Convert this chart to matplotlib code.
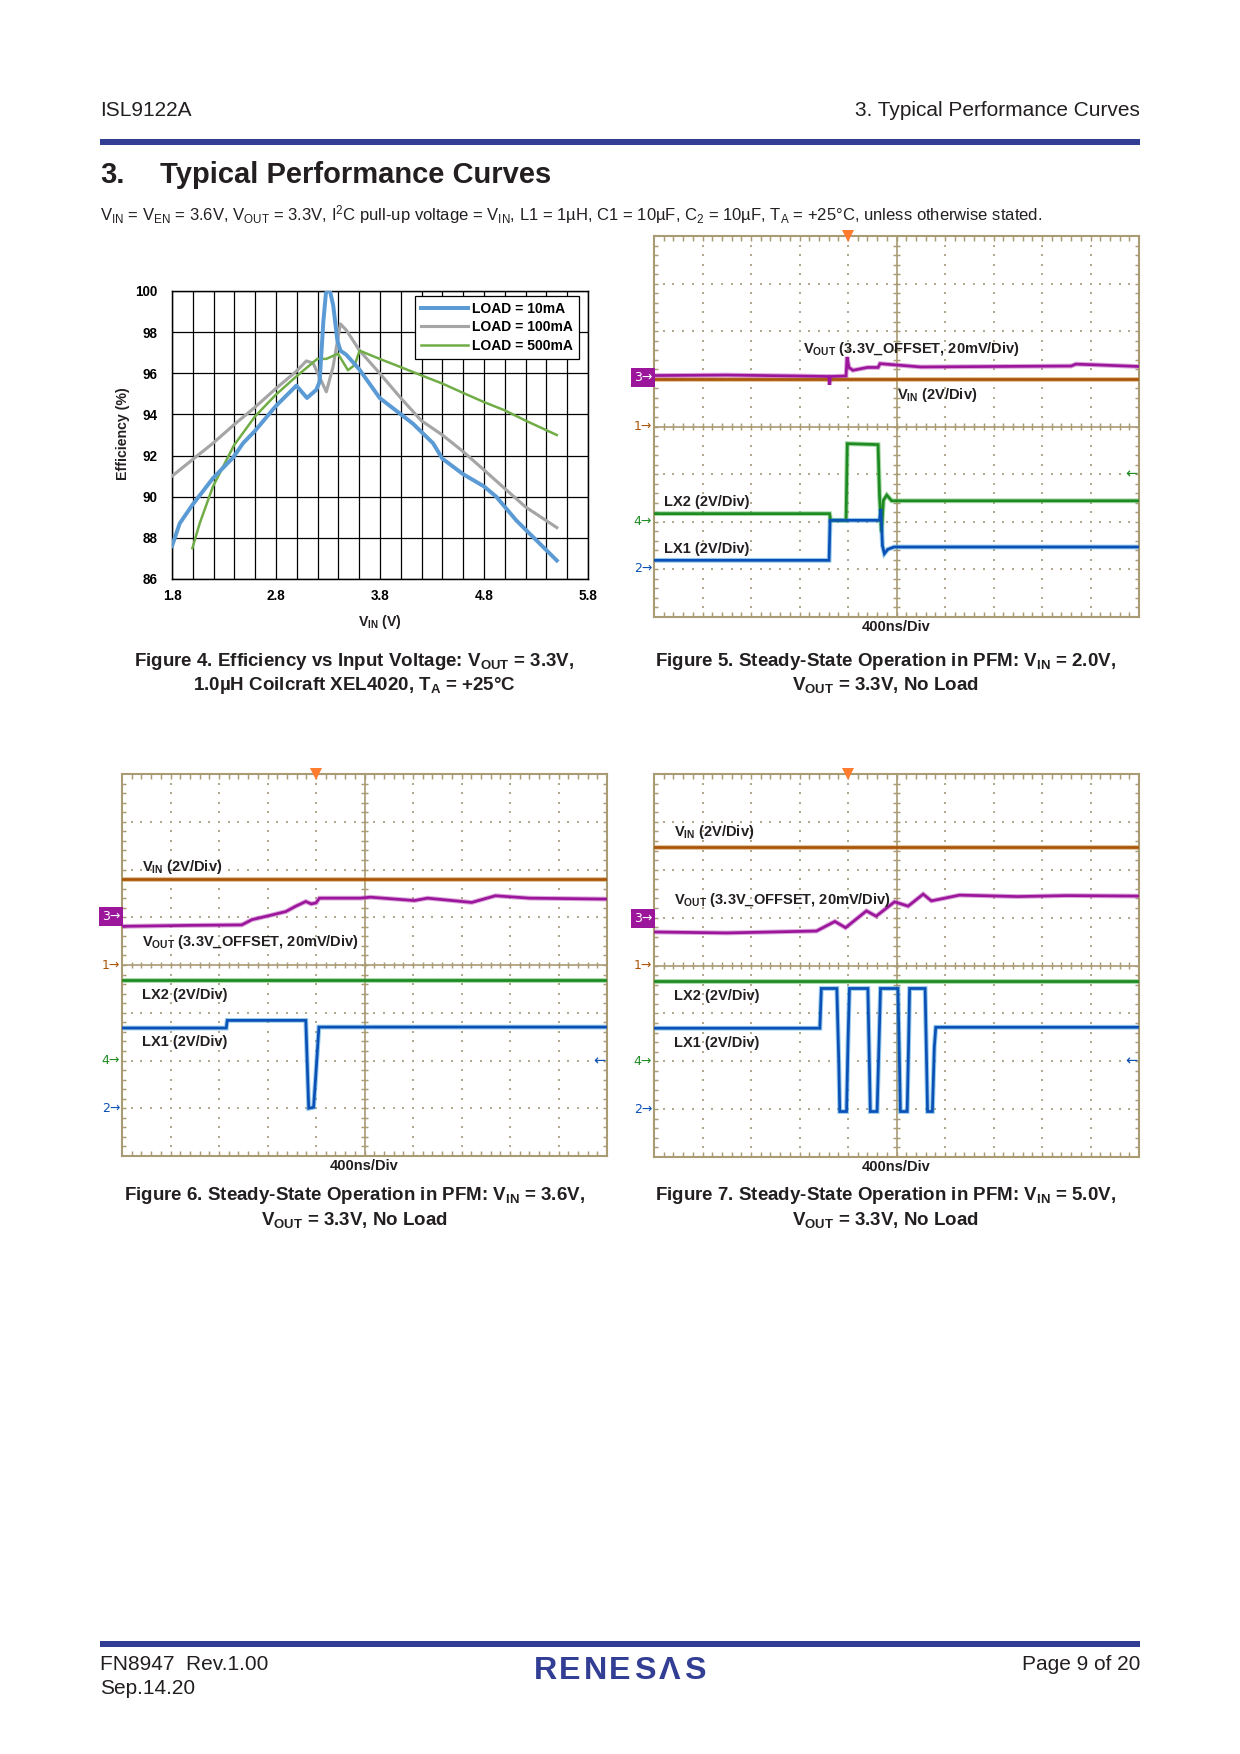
import numpy as np
import matplotlib
matplotlib.use("Agg")
import matplotlib.pyplot as plt
import matplotlib.transforms as mtransforms
from matplotlib.patches import Rectangle

plt.rcParams["font.family"] = ["Liberation Sans", "DejaVu Sans"]
plt.rcParams["mathtext.fontset"] = "custom"
plt.rcParams["mathtext.rm"] = "Liberation Sans"
plt.rcParams["mathtext.it"] = "Liberation Sans:italic"
plt.rcParams["mathtext.bf"] = "Liberation Sans:bold"

W, H, DPI = 1240, 1754, 150
TXT = "#231f20"
BAR = "#313e94"

# ── Figure 4: efficiency vs VIN ────────────────────────────────────────────
VIN_10MA = [1.80, 1.874, 1.996, 2.194, 2.387, 2.483, 2.598, 2.797, 2.996, 3.098,
            3.188, 3.22, 3.255, 3.28, 3.31, 3.35, 3.39, 3.42, 3.476, 3.60,
            3.797, 3.989, 4.117, 4.31, 4.40, 4.598, 4.80, 4.918, 5.11, 5.30, 5.50]
EFF_10MA = [87.6, 88.7, 89.6, 90.9, 91.9, 92.6, 93.2, 94.4, 95.4, 94.8,
            95.2, 95.6, 98.5, 99.9, 100.2, 99.3, 97.6, 97.1, 96.9, 96.2,
            94.8, 94.05, 93.55, 92.6, 91.85, 91.1, 90.5, 90.0, 88.85, 87.9, 86.9]

VIN_100MA = [1.80, 1.996, 2.194, 2.396, 2.598, 2.797, 2.996, 3.092, 3.156, 3.22,
             3.284, 3.348, 3.419, 3.476, 3.604, 3.797, 3.999, 4.197, 4.40, 4.598,
             4.80, 4.999, 5.20, 5.50]
EFF_100MA = [91.0, 91.8, 92.6, 93.5, 94.35, 95.25, 96.1, 96.6, 96.5, 95.8,
             95.1, 96.3, 98.4, 98.1, 97.1, 96.0, 94.8, 93.7, 93.0, 92.2,
             91.3, 90.4, 89.5, 88.5]

VIN_500MA = [1.996, 2.066, 2.194, 2.396, 2.598, 2.797, 2.996, 3.197, 3.284, 3.396,
             3.492, 3.556, 3.604, 3.797, 3.999, 4.197, 4.40, 4.598, 4.80, 4.999,
             5.20, 5.50]
EFF_500MA = [87.5, 88.7, 90.5, 92.5, 93.9, 94.95, 95.85, 96.7, 96.7, 96.95,
             96.15, 96.4, 97.1, 96.7, 96.3, 95.9, 95.5, 95.05, 94.6, 94.2,
             93.7, 93.0]

EFF_XTICKS = [1.8, 2.8, 3.8, 4.8, 5.8]
EFF_YTICKS = [86, 88, 90, 92, 94, 96, 98, 100]
LOAD_LABELS = ["LOAD = 10mA", "LOAD = 100mA", "LOAD = 500mA"]

# ── Scope traces (time in divisions, level in divisions, 10 x 8 grid) ─────
# Figure 5: VIN = 2.0V
F5_VIN_T = [0, 10]
F5_VIN_V = [4.99, 4.99]
F5_VOUT_T = [0, 1.5, 3.0, 3.60, 3.62, 3.64, 3.96, 3.98, 4.02, 4.10, 4.40, 4.62,
             4.66, 5.5, 7.0, 8.6, 8.7, 10]
F5_VOUT_V = [5.07, 5.08, 5.06, 5.05, 4.88, 5.05, 5.06, 5.46, 5.24, 5.18, 5.24, 5.24,
             5.32, 5.25, 5.26, 5.27, 5.31, 5.26]
F5_LX2_T = [0, 3.62, 3.64, 3.96, 3.985, 4.62, 4.65, 4.69, 4.73, 4.80, 4.90, 10]
F5_LX2_V = [2.17, 2.17, 2.03, 2.03, 3.64, 3.62, 2.55, 1.78, 2.45, 2.56, 2.44, 2.44]
F5_LX1_T = [0, 3.61, 3.63, 4.65, 4.68, 4.71, 4.75, 4.82, 4.95, 10]
F5_LX1_V = [1.19, 1.19, 2.03, 2.03, 2.27, 1.50, 1.33, 1.42, 1.47, 1.47]

# Figure 6: VIN = 3.6V
F6_VIN_T = [0, 10]
F6_VIN_V = [5.80, 5.80]
F6_VOUT_T = [0, 1.42, 2.47, 2.68, 3.10, 3.38, 3.58, 3.79, 3.90, 4.00, 4.07, 4.91,
             5.12, 6.03, 6.30, 7.21, 7.70, 8.40, 10]
F6_VOUT_V = [4.81, 4.83, 4.84, 4.95, 5.05, 5.12, 5.23, 5.33, 5.28, 5.30, 5.40, 5.40,
             5.42, 5.35, 5.40, 5.31, 5.45, 5.40, 5.38]
F6_LX2_T = [0, 10]
F6_LX2_V = [3.68, 3.68]
F6_LX1_T = [0, 2.15, 2.17, 3.79, 3.83, 3.85, 3.95, 3.99, 4.06, 10]
F6_LX1_V = [2.68, 2.68, 2.84, 2.84, 1.60, 1.00, 1.02, 1.60, 2.70, 2.70]

# Figure 7: VIN = 5.0V
F7_VIN_T = [0, 10]
F7_VIN_V = [6.48, 6.48]
F7_VOUT_T = [0, 1.5, 3.35, 3.73, 3.95, 4.38, 4.58, 4.96, 5.24, 5.55, 5.72, 6.3,
             7.5, 8.5, 10]
F7_VOUT_V = [4.70, 4.68, 4.72, 4.92, 4.79, 5.14, 5.03, 5.33, 5.24, 5.49, 5.35, 5.47,
             5.44, 5.46, 5.45]
F7_LX2_T = [0, 10]
F7_LX2_V = [3.68, 3.68]
F7_LX1_T = [0, 3.42, 3.45, 3.77, 3.81, 3.83, 3.97, 4.00, 4.03, 4.41, 4.44, 4.46,
            4.60, 4.64, 4.67, 5.03, 5.06, 5.08, 5.22, 5.25, 5.27, 5.59, 5.62, 5.64,
            5.74, 5.78, 5.81, 10]
F7_LX1_V = [2.69, 2.69, 3.52, 3.52, 2.00, 0.95, 0.95, 2.40, 3.52, 3.52, 2.00, 0.95,
            0.95, 2.40, 3.52, 3.52, 2.00, 0.95, 0.95, 2.40, 3.52, 3.52, 2.00, 0.95,
            0.95, 2.30, 2.71, 2.71]

# channel ground markers (div): ch3 VOUT, ch1 VIN, ch4 LX2, ch2 LX1
F5_MARKS = [5.03, 4.0, 2.01, 1.01]
F6_MARKS = [5.02, 4.0, 2.0, 1.0]
F7_MARKS = [4.98, 4.0, 2.0, 1.0]
TRIG_T = 4.0
F5_TRIG_LEVEL = 3.0
F6_TRIG_LEVEL = 2.0
F7_TRIG_LEVEL = 2.0

C_VIN = "#a9560a"
C_VOUT = "#9c169c"
C_LX2 = "#1d8a22"
C_LX1 = "#0b50b5"
HALO = {C_VIN: "#c98a3a", C_VOUT: "#c060c0", C_LX2: "#5cb85c", C_LX1: "#3fa0e0"}
C_GRID = "#a99b74"
C_DOT = "#b3a98f"


def px_axes(fig, x0, y0, x1, y1):
    return fig.add_axes([x0 / W, 1 - y1 / H, (x1 - x0) / W, (y1 - y0) / H])


def draw_scope(ax, traces, marks, trig_level, trig_color, labels):
    ax.set_xlim(0, 10)
    ax.set_ylim(0, 8)
    ax.set_xticks([])
    ax.set_yticks([])
    for s in ax.spines.values():
        s.set_color(C_GRID)
        s.set_linewidth(1.0)

    minor_x = np.arange(0.2, 10, 0.2)
    minor_y = np.arange(0.2, 8, 0.2)
    # dotted division grid
    for xv in [1, 2, 3, 4, 6, 7, 8, 9]:
        ax.scatter(np.full(len(minor_y), xv), minor_y, s=0.7, marker="s",
                   color=C_DOT, linewidths=0, zorder=1)
    for yv in [1, 2, 3, 5, 6, 7]:
        ax.scatter(minor_x, np.full(len(minor_x), yv), s=0.7, marker="s",
                   color=C_DOT, linewidths=0, zorder=1)
    # centre cross with minor ticks
    ax.axvline(5, color=C_GRID, lw=0.8, zorder=1)
    ax.axhline(4, color=C_GRID, lw=0.8, zorder=1)
    ax.vlines(minor_x, 4 - 0.07, 4 + 0.07, color=C_GRID, lw=0.7, zorder=1)
    ax.hlines(minor_y, 5 - 0.08, 5 + 0.08, color=C_GRID, lw=0.7, zorder=1)
    # edge ticks
    ax.vlines(minor_x, 8 - 0.1, 8, color=C_GRID, lw=0.7, zorder=1)
    ax.vlines(minor_x, 0, 0.1, color=C_GRID, lw=0.7, zorder=1)
    ax.hlines(minor_y, 0, 0.08, color=C_GRID, lw=0.7, zorder=1)
    ax.hlines(minor_y, 10 - 0.08, 10, color=C_GRID, lw=0.7, zorder=1)

    for t, v, c in traces:
        ax.plot(t, v, color=HALO[c], lw=2.3, alpha=0.55, solid_joinstyle="miter", zorder=2)
        ax.plot(t, v, color=c, lw=1.3, solid_joinstyle="miter", zorder=3)

    # trigger position marker
    ax.plot([TRIG_T], [8], marker="v", color="#ff7b2e", markersize=5.5,
            clip_on=False, zorder=5, markeredgewidth=0)
    ax.text(9.97, trig_level, "\u2190", color=trig_color, ha="right", va="center",
            fontsize=7, family=["DejaVu Sans"], zorder=5)

    tr = mtransforms.blended_transform_factory(ax.transAxes, ax.transData)
    ax.text(-0.004, marks[0], "3\u2192", transform=tr, ha="right", va="center",
            fontsize=6, color="white", family=["DejaVu Sans"], clip_on=False,
            bbox=dict(boxstyle="square,pad=0.25", fc=C_VOUT, ec="none"))
    for lvl, name, col in zip(marks[1:], ["1", "4", "2"], [C_VIN, C_LX2, C_LX1]):
        ax.text(-0.004, lvl, name + "\u2192", transform=tr, ha="right", va="center",
                fontsize=6, color=col, family=["DejaVu Sans"], clip_on=False)

    for x, y, s in labels:
        ax.text(x, y, s, ha="left", va="baseline", fontsize=7, fontweight="bold",
                color=TXT, zorder=6)


fig = plt.figure(figsize=(W / DPI, H / DPI), dpi=DPI)
page = fig.add_axes([0, 0, 1, 1])
page.set_xlim(0, W)
page.set_ylim(H, 0)
page.axis("off")

# header
page.text(100, 111, "ISL9122A", fontsize=10, color=TXT, va="center", ha="left")
page.text(1140, 111, "3. Typical Performance Curves", fontsize=10, color=TXT,
          va="center", ha="right")
page.add_patch(Rectangle((100, 139), 1040, 6, color=BAR, lw=0))
page.text(100, 175, "3.", fontsize=14, fontweight="bold", color=TXT, va="center")
page.text(160, 175, "Typical Performance Curves", fontsize=14, fontweight="bold",
          color=TXT, va="center")
page.text(100, 215,
          r"V$_\mathrm{IN}$ = V$_\mathrm{EN}$ = 3.6V, V$_\mathrm{OUT}$ = 3.3V, "
          r"I$^\mathrm{2}$C pull-up voltage = V$_\mathrm{IN}$, L1 = 1µH, C1 = 10µF, "
          r"C$_\mathrm{2}$ = 10µF, T$_\mathrm{A}$ = +25°C, unless otherwise stated.",
          fontsize=8, color=TXT, va="center", ha="left")

# ── Figure 4 ──
ax4 = px_axes(fig, 172, 291, 588, 579)
ax4.plot(VIN_10MA, EFF_10MA, color="#5b9bd5", lw=1.9, label=LOAD_LABELS[0], zorder=4)
ax4.plot(VIN_100MA, EFF_100MA, color="#a5a5a5", lw=1.5, label=LOAD_LABELS[1], zorder=3)
ax4.plot(VIN_500MA, EFF_500MA, color="#70ad47", lw=1.2, label=LOAD_LABELS[2], zorder=3)
ax4.set_xlim(1.8, 5.8)
ax4.set_ylim(86, 100)
ax4.set_xticks(EFF_XTICKS)
ax4.set_xticklabels([f"{v:.1f}" for v in EFF_XTICKS])
ax4.set_xticks(np.arange(1.8, 5.81, 0.2), minor=True)
ax4.set_yticks(EFF_YTICKS)
ax4.set_yticklabels([str(v) for v in EFF_YTICKS])
ax4.grid(which="both", color="black", lw=0.6)
ax4.set_axisbelow(True)
ax4.tick_params(which="both", length=0, labelsize=6.5)
ax4.tick_params(axis="y", pad=7)
ax4.tick_params(axis="x", pad=5)
for lbl in ax4.get_xticklabels() + ax4.get_yticklabels():
    lbl.set_fontweight("bold")
for s in ax4.spines.values():
    s.set_linewidth(0.7)
leg = ax4.legend(loc="upper right", bbox_to_anchor=(0.978, 0.983), borderaxespad=0,
                 fancybox=False, edgecolor="black", framealpha=1, handlelength=3.3,
                 prop={"weight": "bold", "size": 6.7}, borderpad=0.45,
                 labelspacing=0.3, handletextpad=0.3)
leg.get_frame().set_linewidth(0.6)
page.text(123, 434, "Efficiency (%)", rotation=90, fontsize=6.8, fontweight="bold",
          color=TXT, ha="center", va="center")
page.text(380, 622, r"V$_\mathbf{IN}$ (V)", fontsize=6.8, fontweight="bold",
          color=TXT, ha="center", va="center")

# ── Figure 5 ──
ax5 = px_axes(fig, 654, 236, 1139, 617)
draw_scope(ax5,
           [(F5_VIN_T, F5_VIN_V, C_VIN), (F5_VOUT_T, F5_VOUT_V, C_VOUT),
            (F5_LX2_T, F5_LX2_V, C_LX2), (F5_LX1_T, F5_LX1_V, C_LX1)],
           F5_MARKS, F5_TRIG_LEVEL, C_LX2,
           [(3.07, 5.55, r"V$_\mathbf{OUT}$ (3.3V_OFFSET, 20mV/Div)"),
            (5.0, 4.58, r"V$_\mathbf{IN}$ (2V/Div)"),
            (0.21, 2.33, "LX2 (2V/Div)"),
            (0.21, 1.35, "LX1 (2V/Div)")])
page.text(896, 627, "400ns/Div", fontsize=7, fontweight="bold", color=TXT,
          ha="center", va="center")

# ── Figure 6 ──
ax6 = px_axes(fig, 122, 774, 607, 1156)
draw_scope(ax6,
           [(F6_VIN_T, F6_VIN_V, C_VIN), (F6_VOUT_T, F6_VOUT_V, C_VOUT),
            (F6_LX2_T, F6_LX2_V, C_LX2), (F6_LX1_T, F6_LX1_V, C_LX1)],
           F6_MARKS, F6_TRIG_LEVEL, C_LX1,
           [(0.41, 5.97, r"V$_\mathbf{IN}$ (2V/Div)"),
            (0.41, 4.40, r"V$_\mathbf{OUT}$ (3.3V_OFFSET, 20mV/Div)"),
            (0.41, 3.28, "LX2 (2V/Div)"),
            (0.41, 2.30, "LX1 (2V/Div)")])
page.text(364, 1166, "400ns/Div", fontsize=7, fontweight="bold", color=TXT,
          ha="center", va="center")

# ── Figure 7 ──
ax7 = px_axes(fig, 654, 774, 1139, 1157)
draw_scope(ax7,
           [(F7_VIN_T, F7_VIN_V, C_VIN), (F7_VOUT_T, F7_VOUT_V, C_VOUT),
            (F7_LX2_T, F7_LX2_V, C_LX2), (F7_LX1_T, F7_LX1_V, C_LX1)],
           F7_MARKS, F7_TRIG_LEVEL, C_LX1,
           [(0.41, 6.71, r"V$_\mathbf{IN}$ (2V/Div)"),
            (0.41, 5.29, r"V$_\mathbf{OUT}$ (3.3V_OFFSET, 20mV/Div)"),
            (0.41, 3.27, "LX2 (2V/Div)"),
            (0.41, 2.30, "LX1 (2V/Div)")])
page.text(896, 1167, "400ns/Div", fontsize=7, fontweight="bold", color=TXT,
          ha="center", va="center")

# captions
cap = dict(fontsize=9, fontweight="bold", color=TXT, ha="center", va="center")
page.text(354, 661, r"Figure 4. Efficiency vs Input Voltage: V$_\mathbf{OUT}$ = 3.3V,", **cap)
page.text(354, 685, r"1.0µH Coilcraft XEL4020, T$_\mathbf{A}$ = +25°C", **cap)
page.text(885, 661, r"Figure 5. Steady-State Operation in PFM: V$_\mathbf{IN}$ = 2.0V,", **cap)
page.text(885, 685, r"V$_\mathbf{OUT}$ = 3.3V, No Load", **cap)
page.text(354, 1196, r"Figure 6. Steady-State Operation in PFM: V$_\mathbf{IN}$ = 3.6V,", **cap)
page.text(354, 1220, r"V$_\mathbf{OUT}$ = 3.3V, No Load", **cap)
page.text(885, 1196, r"Figure 7. Steady-State Operation in PFM: V$_\mathbf{IN}$ = 5.0V,", **cap)
page.text(885, 1220, r"V$_\mathbf{OUT}$ = 3.3V, No Load", **cap)

# footer
page.add_patch(Rectangle((100, 1641), 1040, 6, color=BAR, lw=0))
page.text(100, 1665, "FN8947  Rev.1.00", fontsize=10, color=TXT, va="center")
page.text(100, 1689, "Sep.14.20", fontsize=10, color=TXT, va="center")
page.text(1140, 1665, "Page 9 of 20", fontsize=10, color=TXT, va="center", ha="right")
# logo, letters spread out like the wordmark
for i, ch in enumerate("RENESΛS"):
    page.text(545 + i * 25.0, 1671, ch, fontsize=15.5, color=BAR, ha="center",
              va="center", fontweight="bold")

fig.savefig("out.png", dpi=DPI)
